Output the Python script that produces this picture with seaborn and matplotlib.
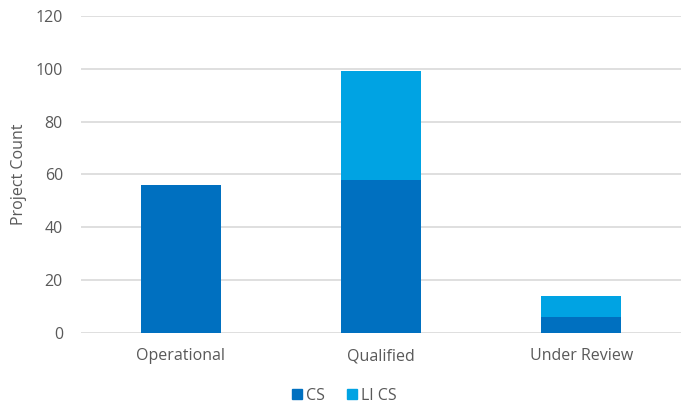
import matplotlib
matplotlib.use("Agg")
import matplotlib.pyplot as plt
from matplotlib.lines import Line2D
import seaborn as sns
import pandas as pd

categories = ["Operational", "Qualified", "Under Review"]
cs_counts = [56, 58, 6]
li_cs_counts = [0, 41, 8]
y_ticks = [0, 20, 40, 60, 80, 100, 120]

CS_COLOR = "#0070C0"
LI_COLOR = "#00A3E3"
TEXT = "#595959"
GRID = "#D9D9D9"

sns.set_theme(style="white")
plt.rcParams["font.family"] = ["Open Sans", "DejaVu Sans"]

df = pd.DataFrame({"category": categories, "CS": cs_counts, "LI CS": li_cs_counts})

fig = plt.figure(figsize=(6.86, 4.08), dpi=100)
ax = fig.add_axes([0.118, 0.184, 0.875, 0.777])

sns.barplot(data=df, x="category", y="CS", color=CS_COLOR, width=0.4,
            saturation=1, ax=ax, zorder=3, linewidth=0)
sns.barplot(data=df, x="category", y="LI CS", color=LI_COLOR, width=0.4,
            saturation=1, ax=ax, bottom=df["CS"], zorder=3, linewidth=0)

ax.set_xlim(-0.5, 2.5)
ax.set_ylim(0, 120)
ax.set_yticks(y_ticks)
ax.yaxis.grid(True, color=GRID, linewidth=1.2, zorder=0)
ax.set_axisbelow(True)
for s in ax.spines.values():
    s.set_visible(False)
ax.tick_params(axis="both", length=0, colors=TEXT, labelsize=11.5)
ax.tick_params(axis="x", pad=11)
ax.tick_params(axis="y", pad=13)
ax.set_xlabel("")
ax.set_ylabel("Project Count", color=TEXT, fontsize=11.5, labelpad=6)

handles = [Line2D([], [], marker="s", linestyle="", color=CS_COLOR, markersize=7),
           Line2D([], [], marker="s", linestyle="", color=LI_COLOR, markersize=7)]
fig.legend(handles, ["CS", "LI CS"], loc="center", bbox_to_anchor=(0.5, 0.03),
           ncol=2, frameon=False, fontsize=11.5, labelcolor=TEXT,
           handletextpad=0.05, columnspacing=1.2, handlelength=1.0)

fig.savefig("out.png", dpi=100)
